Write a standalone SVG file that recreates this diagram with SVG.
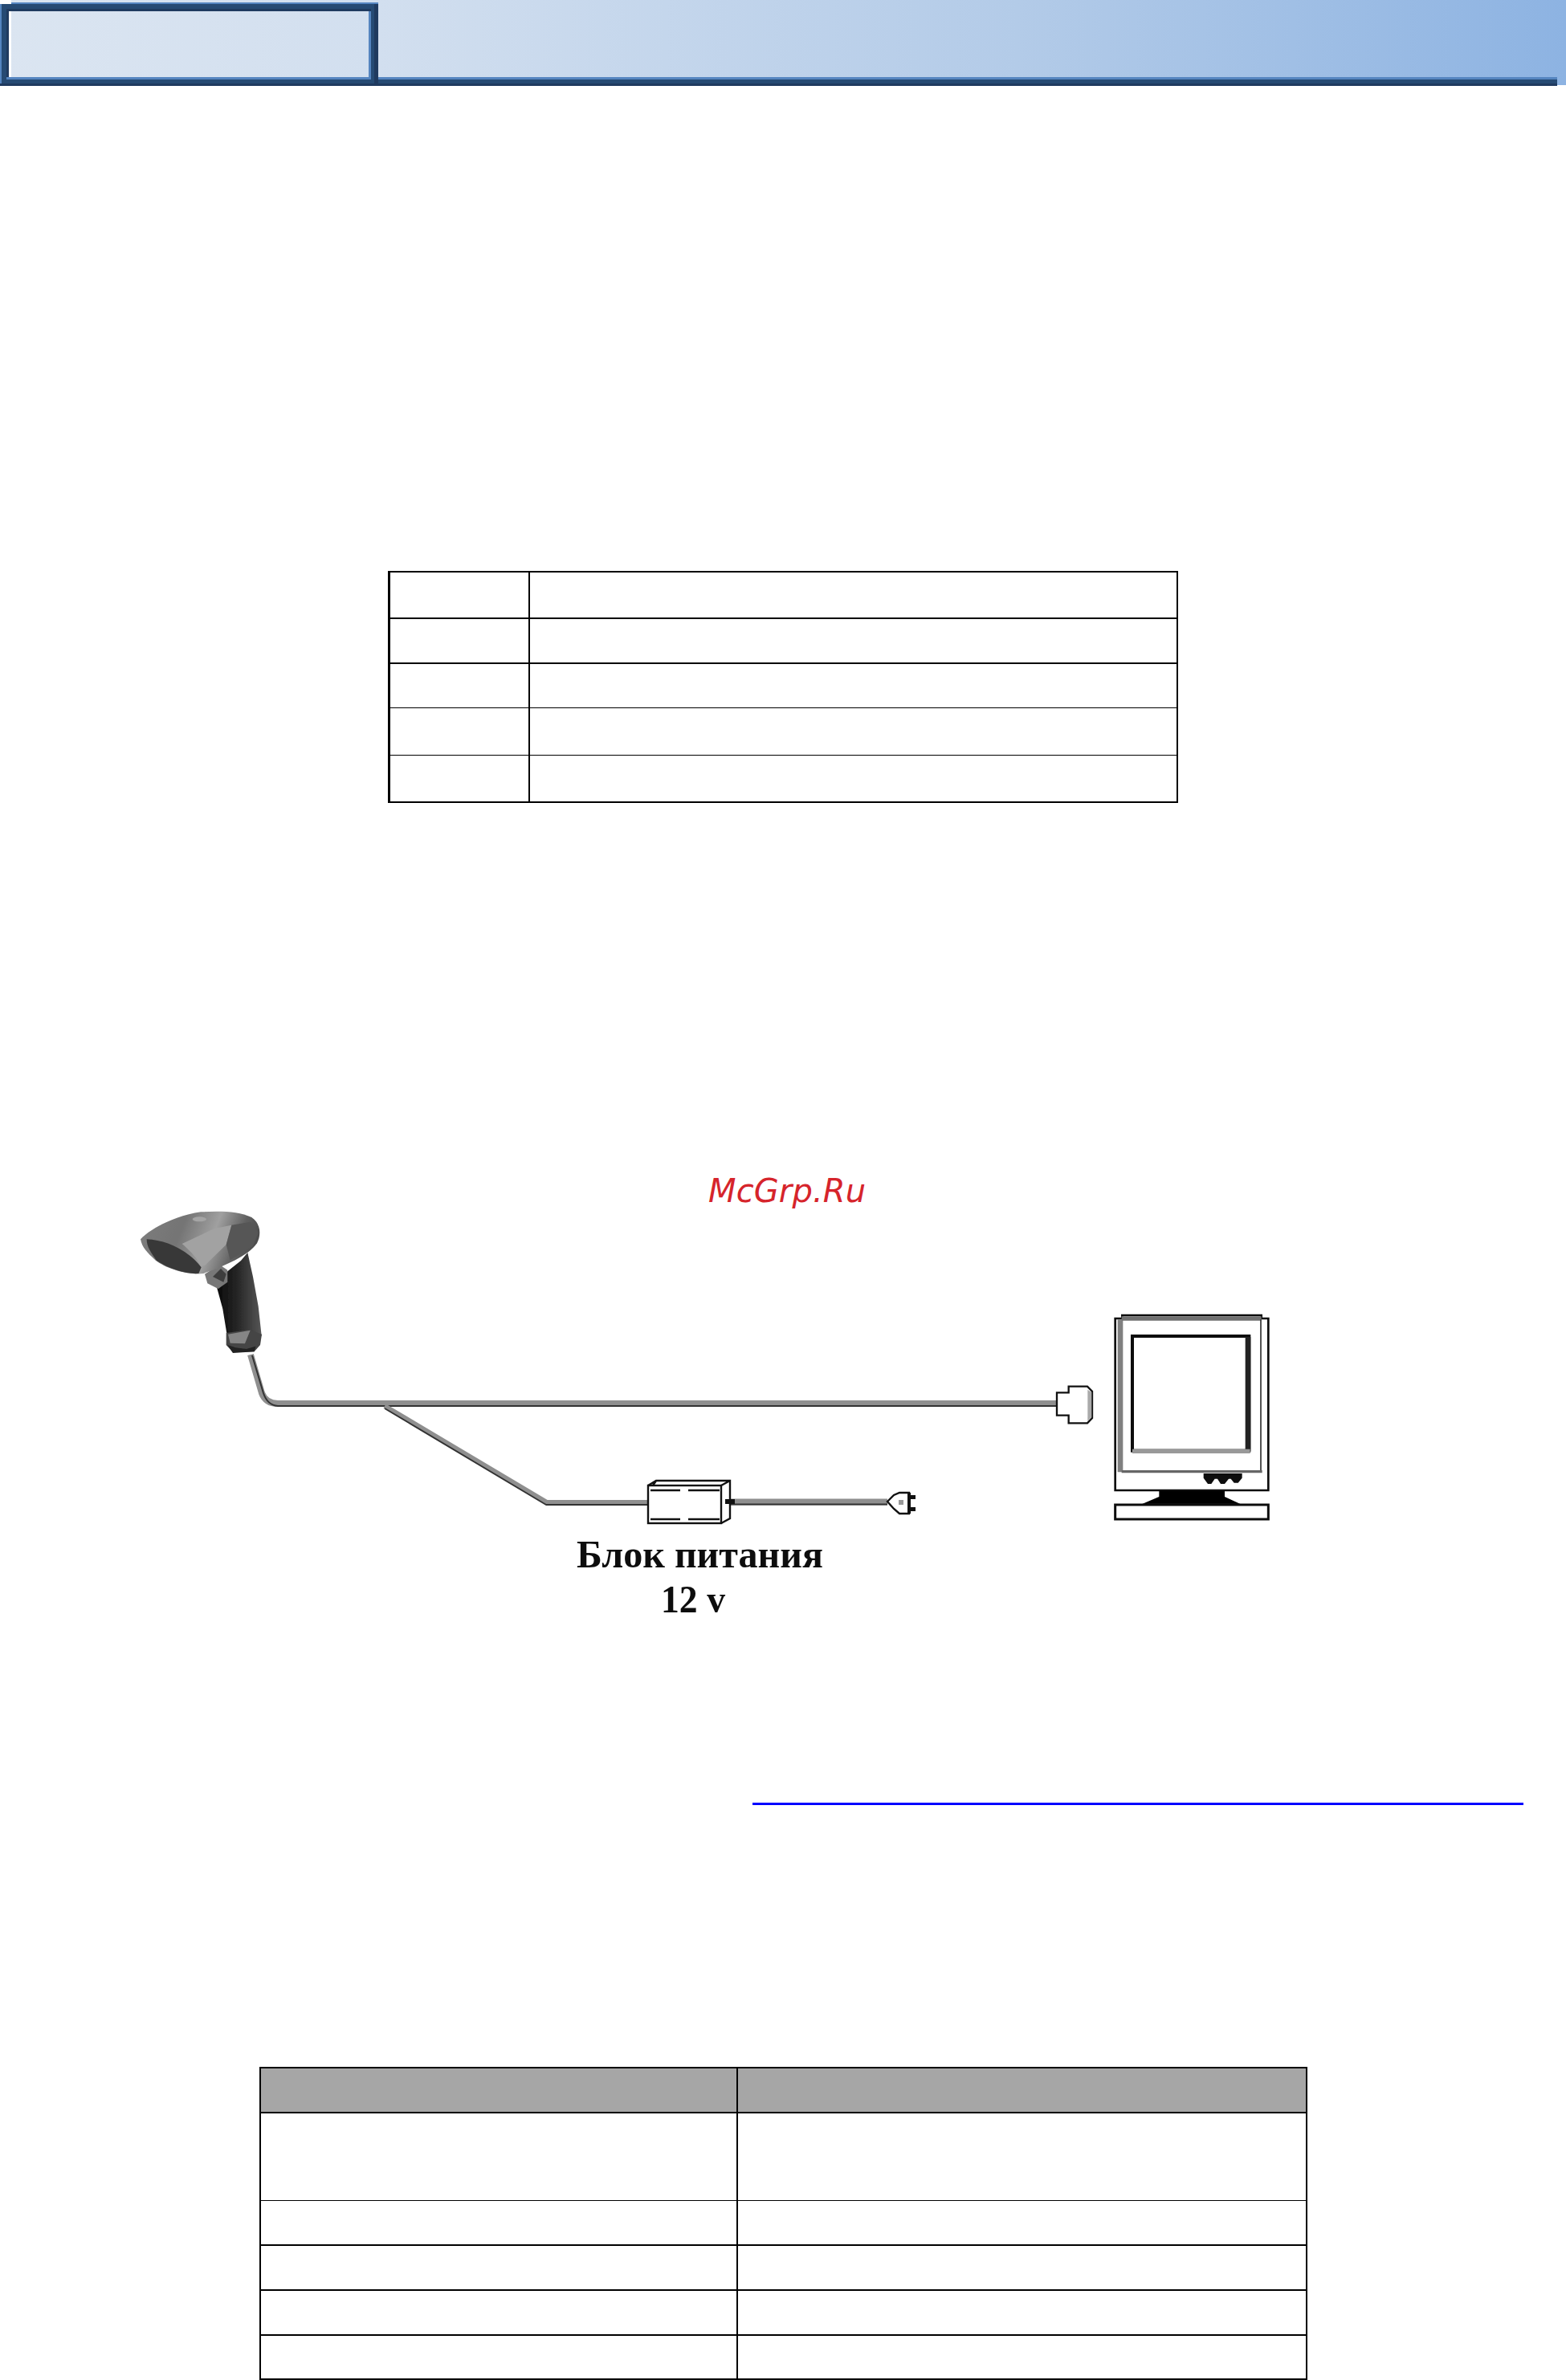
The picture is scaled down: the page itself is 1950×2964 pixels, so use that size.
<svg xmlns="http://www.w3.org/2000/svg" width="1950" height="2964" viewBox="0 0 1950 2964">
<style>
.d{fill:#264a73}.s{fill:#1f3a5f}.l{fill:#5585c0}
.rl{fill:#000}
.cable{fill:none;stroke:#8f8f8f;stroke-width:8;stroke-linejoin:round}
.core{fill:none;stroke:#333;stroke-width:2;stroke-linejoin:round}
.ink{fill:none;stroke:#111;stroke-width:2.4}
.inkz{fill:none;stroke:#111;stroke-width:7}
.cap{font-family:"Liberation Serif","Noto Sans",serif;font-weight:700;font-size:49px;fill:#111}
.wm{font-family:"DejaVu Sans",sans-serif;font-style:oblique;font-size:40px;fill:#d6242b}
</style>
<defs>
<linearGradient id="band" gradientUnits="userSpaceOnUse" x1="0" y1="0" x2="1950" y2="0">
<stop offset="0" stop-color="#dbe5f1"/><stop offset=".24" stop-color="#d2dfef"/><stop offset=".65" stop-color="#b3cbe8"/><stop offset="1" stop-color="#8db3e2"/>
</linearGradient>
<linearGradient id="shell" gradientUnits="userSpaceOnUse" x1="100" y1="90" x2="550" y2="260">
<stop offset="0" stop-color="#7e7e7e"/><stop offset=".35" stop-color="#747474"/><stop offset=".6" stop-color="#a0a0a0"/><stop offset=".8" stop-color="#606060"/><stop offset="1" stop-color="#444"/>
</linearGradient>
<linearGradient id="grip" gradientUnits="userSpaceOnUse" x1="395" y1="0" x2="555" y2="0">
<stop offset="0" stop-color="#0c0c0c"/><stop offset=".45" stop-color="#262626"/><stop offset=".8" stop-color="#444"/><stop offset="1" stop-color="#555"/>
</linearGradient>
<filter id="soft" x="-5%" y="-5%" width="110%" height="110%"><feGaussianBlur stdDeviation="2.2"/></filter>
<filter id="softline" filterUnits="userSpaceOnUse" x="280" y="1480" width="1400" height="560"><feGaussianBlur stdDeviation="0.6"/></filter>
</defs>
<rect width="1950" height="2964" fill="#fff"/>

<g id="header">
<rect x="14" y="0" width="1936" height="106" fill="url(#band)"/>
<rect class="l" x="468" y="96" width="1471" height="3"/>
<rect class="d" x="0" y="99" width="1939" height="5"/>
<rect class="s" x="0" y="104" width="1939" height="3"/>
<rect class="l" x="14" y="3" width="457" height="2"/>
<rect class="l" x="0" y="5" width="2" height="99"/>
<rect class="d" x="2" y="5" width="469" height="99"/>
<rect class="s" x="466" y="5" width="5" height="99"/>
<rect class="s" x="8" y="11" width="454" height="3"/>
<rect class="s" x="8" y="11" width="3" height="85"/>
<rect x="11" y="14" width="3" height="82" fill="#fff"/>
<rect x="14" y="14" width="445" height="82" fill="url(#band)"/>
<rect class="l" x="459" y="14" width="3" height="82"/>
<rect class="l" x="8" y="96" width="454" height="3"/>
</g>

<g id="table-top">
<rect class="rl" x="483" y="711" width="984" height="2"/>
<rect class="rl" x="483" y="769" width="984" height="2"/>
<rect class="rl" x="483" y="825" width="984" height="2"/>
<rect class="rl" x="483" y="881" width="984" height="1"/>
<rect class="rl" x="483" y="940" width="984" height="1"/>
<rect class="rl" x="483" y="998" width="984" height="2"/>
<rect class="rl" x="483" y="711" width="3" height="289"/>
<rect class="rl" x="658" y="711" width="2" height="289"/>
<rect class="rl" x="1465" y="711" width="2" height="289"/>
</g>

<text id="watermark" class="wm" x="882" y="1497" textLength="196">McGrp.Ru</text>

<g id="connectors" filter="url(#softline)">
<path class="cable" d="M312 1687L326 1735Q331 1748 346 1748H1317"/>
<path class="core" d="M314 1688L328 1735Q333 1750 346 1751H1317"/>
<path class="cable" style="stroke-width:6" d="M479 1751L681 1871H807"/>
<path class="core" d="M479 1754L680 1874H807"/>
<path class="cable" d="M908 1870.500H1105"/>
<path class="core" d="M908 1873.500H1105"/>
</g>

<g id="scanner" transform="translate(140 1480) scale(.33333)">
<g filter="url(#soft)">
<path fill="url(#grip)" d="M390 370L430 310L480 270L505 240L525 330L545 440L557 550L520 590L430 560L412 450Z"/>
<path fill="#777" d="M345 320L400 285L430 305L430 350L395 375L355 355Z"/>
<path fill="#3c3c3c" d="M375 330L405 300L425 320L415 350Z"/>
<path fill="#444" d="M425 540L515 528L558 545L552 585L530 610L450 612L425 585Z"/>
<path fill="#858585" d="M432 545L515 530L495 580L440 578Z"/>
<path fill="#222" d="M430 585L460 595L500 600L535 590L530 610L450 615Z"/>
<path fill="url(#shell)" d="M105 190C140 150 240 100 330 88C400 84 470 84 520 108C552 130 558 170 540 205C510 250 420 290 340 318C280 325 200 300 160 268C130 240 110 220 105 190Z"/>
<path fill="#383838" d="M128 190C180 192 240 212 290 252C310 268 325 285 332 295L322 318C280 322 210 300 165 270C145 240 128 220 128 190Z"/>
<path fill="#a2a2a2" d="M260 207L380 150L445 137L425 210L345 288L330 290C310 250 280 225 260 207Z"/>
<path fill="#565656" d="M445 137L515 125L545 165L525 215L440 268L425 210Z"/>
<ellipse cx="325" cy="115" rx="26" ry="9" fill="#a5a5a5"/>
</g>
</g>

<g id="power-supply" transform="translate(780 1820)">
<rect x="27" y="30" width="91" height="47" fill="#fff" class="ink"/>
<path class="ink" d="M27 30L37 24H129V71L118 77M118 30L129 24M37 24L33 30"/>
<path class="ink" d="M30 36H67M77 36H116M30 72H67M77 72H116"/>
<path d="M123 50H135" stroke="#111" stroke-width="6" fill="none"/>
</g>

<g id="plug" transform="translate(780 1820)">
<path class="ink" d="M325 50L333 42L340 39H352V65H340L333 59Z"/>
<path d="M352 39V65" stroke="#111" stroke-width="4" fill="none"/>
<path d="M352 44.500H360M352 59.500H360" stroke="#111" stroke-width="5" fill="none"/>
<rect x="339" y="48" width="6" height="6" fill="#999"/>
</g>

<g id="db-connector" transform="translate(1260 1600) scale(.33333)">
<path class="inkz" fill="#fff" d="M168 403H212V380H282L300 398V498L282 517H212V488H168Z"/>
<path d="M283 392L298 402V495L283 510Z" fill="#aaa"/>
</g>

<g id="monitor" transform="translate(1260 1600) scale(.33333)">
<g filter="url(#soft)">
<path fill="#fff" stroke="#111" stroke-width="8" d="M386 126H412V114H932V126H958V768H386Z"/>
<path fill="none" stroke="#808080" stroke-width="20" d="M405 130V700"/>
<path fill="none" stroke="#707070" stroke-width="16" d="M410 126H932"/>
<path fill="none" stroke="#333" stroke-width="5" d="M930 130V700"/>
<path fill="none" stroke="#666" stroke-width="10" d="M410 698H935"/>
<rect x="450" y="192" width="436" height="428" fill="#fff" stroke="#111" stroke-width="12"/>
<path fill="none" stroke="#222" stroke-width="20" d="M882 195V622"/>
<path fill="none" stroke="#999" stroke-width="16" d="M450 622H890"/>
<path fill="#111" d="M716 705H860V722L845 740H830L818 725H810L795 744H780L768 725H758L745 744H732L716 722Z"/>
<path fill="#000" d="M550 770H795V792L855 820H485L550 792Z"/>
<rect x="386" y="822" width="572" height="54" fill="#fff" stroke="#111" stroke-width="9"/>
</g>
</g>

<g id="label" filter="url(#softline)">
<text class="cap" x="718" y="1952" textLength="307" lengthAdjust="spacingAndGlyphs">Блок питания</text>
<text class="cap" x="823" y="2008" textLength="80" lengthAdjust="spacingAndGlyphs">12 v</text>
</g>

<rect id="link-underline" x="937" y="2245" width="960" height="3" fill="#00f"/>

<g id="table-bottom">
<rect x="323" y="2575" width="1304" height="55" fill="#a6a6a6"/>
<rect class="rl" x="323" y="2574" width="1305" height="2"/>
<rect class="rl" x="323" y="2630" width="1305" height="2"/>
<rect class="rl" x="323" y="2740" width="1305" height="1"/>
<rect class="rl" x="323" y="2795" width="1305" height="2"/>
<rect class="rl" x="323" y="2851" width="1305" height="2"/>
<rect class="rl" x="323" y="2907" width="1305" height="2"/>
<rect class="rl" x="323" y="2962" width="1305" height="2"/>
<rect class="rl" x="323" y="2574" width="2" height="390"/>
<rect class="rl" x="917" y="2574" width="2" height="390"/>
<rect class="rl" x="1626" y="2574" width="2" height="390"/>
</g>
</svg>
